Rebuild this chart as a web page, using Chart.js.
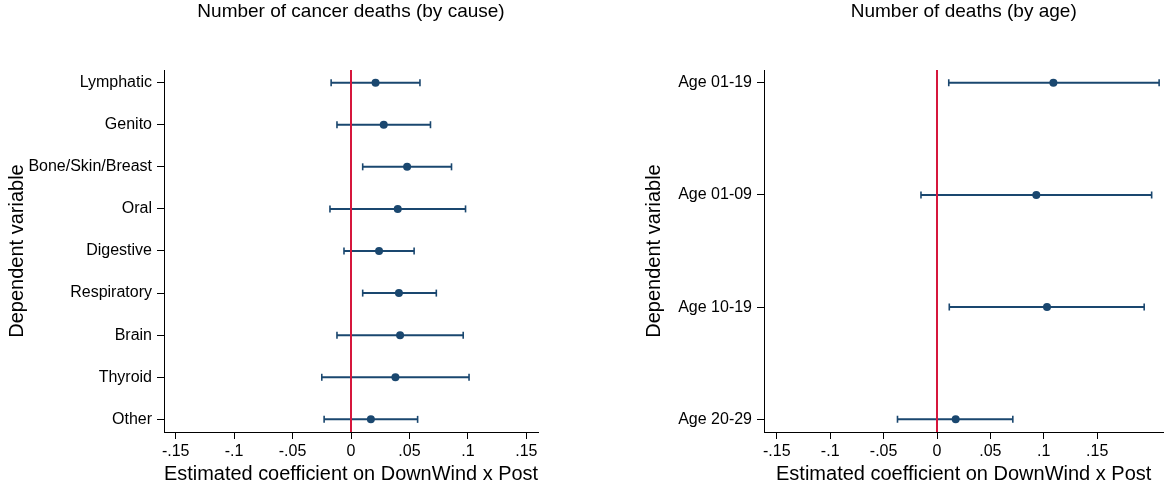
<!DOCTYPE html>
<html>
<head>
<meta charset="utf-8">
<script src="https://cdn.jsdelivr.net/npm/chart.js@4"></script>
<style>
    html, body { margin: 0; padding: 0; background: #fff; }
    .panel { position: absolute; top: 0; height: 489px; }
    #left { left: 0; width: 584px; }
    #right { left: 584px; width: 585px; }
</style>
</head>
<body>
<div class="panel" id="left"><canvas id="causeChart" width="584" height="489"></canvas></div>
<div class="panel" id="right"><canvas id="ageChart" width="585" height="489"></canvas></div>

<script>
/* === DATA === */
const causeLabels = ['Lymphatic', 'Genito', 'Bone/Skin/Breast', 'Oral', 'Digestive', 'Respiratory', 'Brain', 'Thyroid', 'Other'];
const causeCoef = [0.021, 0.028, 0.048, 0.040, 0.024, 0.041, 0.042, 0.038, 0.017];
const causeLow  = [-0.017, -0.012, 0.010, -0.018, -0.006, 0.010, -0.012, -0.025, -0.023];
const causeHigh = [0.059, 0.068, 0.086, 0.098, 0.054, 0.073, 0.096, 0.101, 0.057];

const ageLabels = ['Age 01-19', 'Age 01-09', 'Age 10-19', 'Age 20-29'];
const ageCoef = [0.109, 0.093, 0.103, 0.0175];
const ageLow  = [0.011, -0.015, 0.0115, -0.037];
const ageHigh = [0.208, 0.201, 0.194, 0.071];

const causeTickValues = [-0.15, -0.1, -0.05, 0, 0.05, 0.1, 0.15];
const causeTickLabels = ['-.15', '-.1', '-.05', '0', '.05', '.1', '.15'];
const ageTickValues = [-0.15, -0.1, -0.05, 0, 0.05, 0.1, 0.15];
const ageTickLabels = ['-.15', '-.1', '-.05', '0', '.05', '.1', '.15'];

const NAVY = '#1a476f';
const RED = '#d6163c';
const FONT = 'Liberation Sans, Arial, sans-serif';

/* === BUILD ONE COEFFICIENT PLOT === */
function coefPlot(canvasId, cfg) {
    const n = cfg.labels.length;
    const yMin = 1 - cfg.yPad, yMax = n + cfg.yPad;

    const ciSets = cfg.labels.map((lab, i) => ({
        data: [{ x: cfg.low[i], y: i + 1 }, { x: cfg.high[i], y: i + 1 }],
        showLine: true,
        borderColor: NAVY,
        borderWidth: 2,
        pointStyle: 'line',
        rotation: 90,
        pointRadius: 3.5,
        pointBorderWidth: 1.6,
        pointBorderColor: NAVY
    }));

    new Chart(document.getElementById(canvasId), {
        type: 'scatter',
        data: {
            datasets: [{
                data: [{ x: 0, y: yMin }, { x: 0, y: yMax }],
                showLine: true,
                borderColor: RED,
                borderWidth: 2,
                pointRadius: 0
            }, {
                data: cfg.coef.map((v, i) => ({ x: v, y: i + 1 })),
                backgroundColor: NAVY,
                borderColor: NAVY,
                pointRadius: 4,
                pointBorderWidth: 0
            }].concat(ciSets)
        },
        options: {
            responsive: false,
            animation: false,
            layout: { padding: { left: 0, top: 0, bottom: 0, right: cfg.padRight } },
            plugins: {
                legend: { display: false },
                tooltip: { enabled: false }
            },
            scales: {
                // top axis only carries the panel title, centred over the plot region
                top: {
                    type: 'linear',
                    position: 'top',
                    min: cfg.xMin,
                    max: cfg.xMax,
                    afterFit: s => { s.height = 70; },
                    ticks: { display: false },
                    grid: { display: false },
                    border: { display: false },
                    title: {
                        display: true,
                        text: cfg.title,
                        color: '#000',
                        font: { family: FONT, size: 19 },
                        padding: { top: 0.6, bottom: 0 }
                    }
                },
                x: {
                    type: 'linear',
                    position: 'bottom',
                    min: cfg.xMin,
                    max: cfg.xMax,
                    afterFit: s => { s.height = 57; },
                    afterBuildTicks: s => { s.ticks = cfg.tickValues.map(v => ({ value: v })); },
                    ticks: {
                        color: '#000',
                        padding: 3,
                        maxRotation: 0,
                        autoSkip: false,
                        font: { family: FONT, size: 16 },
                        callback: (v, i) => cfg.tickLabels[i]
                    },
                    grid: { drawOnChartArea: false, drawTicks: true, tickLength: 7, color: '#000' },
                    border: { display: true, color: '#000', width: 1 },
                    title: {
                        display: true,
                        text: 'Estimated coefficient on DownWind x Post',
                        color: '#000',
                        font: { family: FONT, size: 20 },
                        padding: { top: 0, bottom: 3 }
                    }
                },
                y: {
                    type: 'linear',
                    reverse: true,
                    min: yMin,
                    max: yMax,
                    afterFit: s => { s.width = cfg.yWidth; },
                    afterBuildTicks: s => { s.ticks = cfg.labels.map((l, i) => ({ value: i + 1 })); },
                    ticks: {
                        color: '#000',
                        padding: 5,
                        autoSkip: false,
                        font: { family: FONT, size: 16 },
                        callback: (v, i) => cfg.labels[i]
                    },
                    grid: { drawOnChartArea: false, drawTicks: true, tickLength: 7, color: '#000' },
                    border: { display: true, color: '#000', width: 1 },
                    title: {
                        display: true,
                        text: 'Dependent variable',
                        color: '#000',
                        font: { family: FONT, size: 20 },
                        padding: { top: cfg.yTitlePad, bottom: 0 }
                    }
                }
            }
        }
    });
}

document.addEventListener('DOMContentLoaded', function() {
    coefPlot('causeChart', {
        title: 'Number of cancer deaths (by cause)',
        labels: causeLabels, coef: causeCoef, low: causeLow, high: causeHigh,
        tickValues: causeTickValues, tickLabels: causeTickLabels,
        xMin: -0.16, xMax: 0.16, yPad: 0.3, yWidth: 164, yTitlePad: 5.5, padRight: 46
    });
    coefPlot('ageChart', {
        title: 'Number of deaths (by age)',
        labels: ageLabels, coef: ageCoef, low: ageLow, high: ageHigh,
        tickValues: ageTickValues, tickLabels: ageTickLabels,
        xMin: -0.162, xMax: 0.212, yPad: 0.113, yWidth: 180, yTitlePad: 58, padRight: 0
    });
});
</script>
</body>
</html>
